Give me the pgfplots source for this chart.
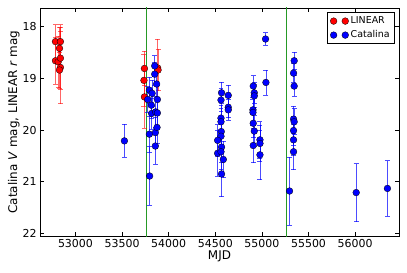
\documentclass[border=0pt]{standalone}
\usepackage{fontspec}
\setmainfont{DejaVu Sans}
\usepackage{pgfplots}
\usepackage{pgfplotstable}
\pgfplotsset{compat=1.18}

\pgfplotstableread{
x y e
52786 18.29 0.33
52839 18.29 0.33
52829 18.42 0.40
52786 18.66 0.45
52815 18.68 0.50
52839 18.61 0.60
52839 18.79 0.70
52829 18.84 0.35
53740 18.81 0.33
53735 19.04 0.50
53740 19.36 0.60
53882 18.80 0.56
53886 18.84 0.40
}\linear

\pgfplotstableread{
x y e
53525 20.21 0.32
53850 18.76 0.20
53850 18.92 0.22
53871 19.11 0.25
53793 19.23 0.25
53822 19.29 0.25
53775 19.41 0.25
53879 19.41 0.28
53814 19.52 0.25
53817 19.68 0.30
53860 19.65 0.30
53879 19.67 0.30
53793 20.08 0.35
53857 20.05 0.30
53875 19.95 0.30
53857 20.31 0.35
53796 20.89 0.57
54567 19.28 0.20
54561 19.42 0.22
54639 19.33 0.20
54639 19.56 0.20
54639 19.61 0.20
54561 19.77 0.25
54561 19.84 0.25
54564 20.03 0.28
54561 20.12 0.30
54525 20.20 0.30
54567 20.33 0.30
54525 20.45 0.44
54561 20.42 0.35
54586 20.57 0.35
54567 20.85 0.44
54907 19.15 0.20
54918 19.28 0.20
54918 19.34 0.22
54904 19.61 0.25
54904 19.66 0.25
54907 19.87 0.28
54918 20.02 0.30
54907 20.30 0.33
54979 20.19 0.35
54979 20.26 0.35
54979 20.48 0.48
55043 19.08 0.24
55039 18.24 0.12
55346 18.66 0.17
55339 18.90 0.18
55346 19.15 0.20
55339 19.79 0.25
55346 19.84 0.25
55339 20.01 0.28
55339 20.19 0.30
55339 20.42 0.35
55296 21.18 0.66
56011 21.21 0.56
56346 21.13 0.54
}\catalina

\definecolor{mplgreen}{rgb}{0.15,0.6,0.15}

\begin{document}
\begin{tikzpicture}
\begin{axis}[
  scale only axis,
  width=359bp, height=228bp,
  xmin=52620, xmax=56470,
  ymin=17.64, ymax=22.05,
  y dir=reverse,
  xtick={53000,53500,...,56000},
  ytick={18,19,20,21,22},
  scaled x ticks=false,
  /pgf/number format/1000 sep={},
  /pgf/number format/assume math mode=true,
  tick label style={font=\fontsize{11}{13}\selectfont},
  label style={font=\fontsize{12}{14}\selectfont},
  xlabel={MJD},
  ylabel={Catalina \textit{V} mag, LINEAR \textit{r} mag},
  xlabel style={yshift=4pt},
  ylabel style={yshift=-4pt},
  axis line style={line width=0.8pt},
  major tick length=4bp,
  tick style={black, line width=0.6pt},
  legend style={at={(1,1)}, anchor=north east, xshift=-4bp, yshift=-4.5bp,
    draw=black, line width=0.8pt, font=\fontsize{9.5}{11}\selectfont,
    inner xsep=3pt, inner ysep=2pt, row sep=1.5pt},
  legend cell align=left,
  legend image code/.code={\draw[#1, only marks] plot coordinates {(0cm,0cm) (0.41cm,0cm)};},
]
\addplot[color=mplgreen, line width=1.1bp, forget plot] coordinates {(55268,17.5) (55268,22.2)};
\addplot[color=mplgreen, line width=1.1bp, forget plot] coordinates {(53760,17.5) (53760,22.2)};

\addplot[only marks, mark=*, mark size=3.4pt, color=red,
  mark options={fill=red, draw=black, line width=0.3pt},
  error bars/.cd, y dir=both, y explicit,
  error bar style={red, opacity=0.6, line width=0.7pt},
  error mark options={rotate=90, mark size=2.5pt, red, opacity=0.6, line width=0.7pt}]
  table[x=x, y=y, y error=e]{\linear};
\addlegendentry{LINEAR}

\addplot[only marks, mark=*, mark size=3.4pt, color=blue,
  mark options={fill=blue, draw=black, line width=0.3pt},
  error bars/.cd, y dir=both, y explicit,
  error bar style={blue, opacity=0.7, line width=0.7pt},
  error mark options={rotate=90, mark size=2.5pt, blue, opacity=0.7, line width=0.7pt}]
  table[x=x, y=y, y error=e]{\catalina};
\addlegendentry{Catalina}
\end{axis}
\pgfresetboundingbox
\path[use as bounding box] ([shift={(-40bp,-37bp)}]current axis.south west) rectangle ([shift={(8bp,8bp)}]current axis.north east);
\end{tikzpicture}
\end{document}
